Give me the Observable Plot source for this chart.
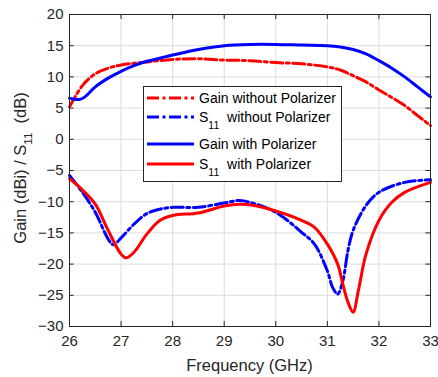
<!DOCTYPE html>
<html>
<head>
<meta charset="utf-8">
<script src="https://cdn.jsdelivr.net/npm/d3@7"></script>
<script src="https://cdn.jsdelivr.net/npm/@observablehq/plot@0.6"></script>
<style>
  html, body { margin: 0; padding: 0; background: #fff; }
  #chart { width: 438px; height: 377px; }
</style>
</head>
<body>
<div id="chart"></div>
<script>
// ---- data ----
const xTicks = [26, 27, 28, 29, 30, 31, 32, 33];
const yTicks = [-30, -25, -20, -15, -10, -5, 0, 5, 10, 15, 20];

const gainWithoutFreq = [26, 26.25, 26.5, 26.75, 27, 27.5, 28, 28.5, 29, 29.5, 30, 30.5, 31, 31.25, 31.5, 31.75, 32, 32.25, 32.5, 32.75, 33];
const gainWithoutVal  = [5.2, 8.6, 10.5, 11.4, 11.9, 12.4, 12.8, 12.9, 12.7, 12.6, 12.3, 12.1, 11.6, 11.1, 10.2, 9.2, 7.9, 6.7, 5.4, 3.8, 2.2];

const s11WithoutFreq = [26, 26.25, 26.5, 26.75, 26.85, 27, 27.25, 27.5, 27.75, 28, 28.5, 29, 29.3, 29.5, 30, 30.5, 30.75, 31, 31.1, 31.2, 31.3, 31.4, 31.5, 31.75, 32, 32.5, 33];
const s11WithoutVal  = [-5.8, -8.5, -11.7, -16.0, -16.9, -15.8, -13.6, -11.9, -11.2, -10.9, -10.9, -10.2, -9.8, -10.1, -11.7, -14.9, -16.8, -21.1, -23.7, -24.8, -22.7, -17.8, -14.6, -10.6, -8.5, -6.9, -6.5];

const gainWithFreq = [26, 26.1, 26.2, 26.3, 26.5, 26.75, 27, 27.25, 27.5, 27.75, 28, 28.5, 29, 29.5, 30, 30.5, 31, 31.25, 31.5, 31.75, 32, 32.25, 32.5, 32.75, 33];
const gainWithVal  = [6.6, 6.4, 6.4, 6.8, 8.4, 9.8, 10.9, 11.8, 12.5, 13.0, 13.5, 14.4, 15.0, 15.2, 15.2, 15.1, 15.0, 14.8, 14.4, 13.7, 12.6, 11.4, 10.0, 8.4, 6.8];

const s11WithFreq = [26, 26.25, 26.5, 26.75, 27, 27.1, 27.25, 27.5, 27.75, 28, 28.5, 29, 29.3, 29.5, 30, 30.5, 30.75, 31, 31.2, 31.3, 31.4, 31.5, 31.6, 31.75, 32, 32.25, 32.5, 33];
const s11WithVal  = [-6.3, -8.1, -10.4, -14.6, -18.4, -19.0, -18.1, -15.2, -13.0, -12.2, -11.8, -10.7, -10.4, -10.5, -11.5, -13.0, -14.1, -16.8, -20.0, -23.2, -26.1, -27.7, -24.3, -18.4, -13.0, -10.1, -8.5, -6.9];

const seriesNames = ["Gain without Polarizer", "S11 without Polarizer", "Gain with Polarizer", "S11 with Polarizer"];

// ---- styles ----
const RED = "#ff0000", BLUE = "#0000ff", INK = "#262626";
const DASHDOT = "12,3.5,3,3.5";
const LW = 3;
const series = [
  {name: seriesNames[0], f: gainWithoutFreq, v: gainWithoutVal, color: RED, dash: DASHDOT},
  {name: seriesNames[1], f: s11WithoutFreq, v: s11WithoutVal, color: BLUE, dash: DASHDOT},
  {name: seriesNames[2], f: gainWithFreq, v: gainWithVal, color: BLUE, dash: null},
  {name: seriesNames[3], f: s11WithFreq, v: s11WithVal, color: RED, dash: null}
];
const toRows = s => s.f.map((f, i) => ({f, v: s.v[i]}));

const marks = [
  Plot.gridX(xTicks, {stroke: "#dcdcdc", strokeOpacity: 1}),
  Plot.gridY(yTicks, {stroke: "#dcdcdc", strokeOpacity: 1}),
  // inward tick marks (MATLAB style), on all four sides
  Plot.ruleX(xTicks, {y1: -30, y2: -29.2, stroke: INK}),
  Plot.ruleX(xTicks, {y1: 20, y2: 19.2, stroke: INK}),
  Plot.ruleY(yTicks, {x1: 26, x2: 26.09, stroke: INK}),
  Plot.ruleY(yTicks, {x1: 33, x2: 32.91, stroke: INK}),
  Plot.axisX(xTicks, {tickSize: 0, tickPadding: 9, label: null, fill: INK, fontSize: 15}),
  Plot.axisY(yTicks, {tickSize: 0, tickPadding: 6, label: null, fill: INK, fontSize: 15}),
];
for (const s of series) {
  marks.push(Plot.line(toRows(s), {
    x: "f", y: "v", stroke: s.color, strokeWidth: LW,
    strokeDasharray: s.dash || undefined, curve: "catmull-rom"
  }));
}
marks.push(Plot.frame({stroke: INK, strokeWidth: 1}));

const chart = Plot.plot({
  width: 438,
  height: 377,
  marginLeft: 69,
  marginRight: 8,
  marginTop: 14,
  marginBottom: 51,
  x: {domain: [26, 33]},
  y: {domain: [-30, 20]},
  style: {fontFamily: "'Liberation Sans', Arial, sans-serif", fontSize: "15px", color: INK, background: "#fff"},
  marks
});
document.getElementById("chart").appendChild(chart);

// ---- axis labels with subscripts ----
const svg = d3.select(chart);
const font = "'Liberation Sans', Arial, sans-serif";

svg.append("text")
  .attr("x", 249.5).attr("y", 371)
  .attr("text-anchor", "middle")
  .attr("font-family", font).attr("font-size", 16.5).attr("fill", INK)
  .text("Frequency (GHz)");

const yl = svg.append("text")
  .attr("transform", "translate(26,168) rotate(-90)")
  .attr("text-anchor", "middle")
  .attr("font-family", font).attr("font-size", 16.5).attr("fill", INK);
yl.append("tspan").text("Gain (dBi) / S");
yl.append("tspan").attr("font-size", 11.5).attr("dy", 6).text("11");
yl.append("tspan").attr("dy", -6).text("\u00a0 (dB)");

// ---- legend ----
const lg = svg.append("g").attr("text-anchor", "start");
lg.append("rect")
  .attr("x", 143.5).attr("y", 86.5).attr("width", 198).attr("height", 95)
  .attr("fill", "#fff").attr("stroke", INK).attr("stroke-width", 1);
const rowY = [98, 117, 144, 164];
series.forEach((s, i) => {
  const y = rowY[i];
  lg.append("line")
    .attr("x1", 147).attr("x2", 194).attr("y1", y).attr("y2", y)
    .attr("stroke", s.color).attr("stroke-width", LW)
    .attr("stroke-dasharray", s.dash || null);
  const t = lg.append("text")
    .attr("x", 199).attr("y", y + 5)
    .attr("text-anchor", "start")
    .attr("font-family", font).attr("font-size", 14).attr("fill", "#000");
  if (s.name.startsWith("S11")) {
    t.append("tspan").text("S");
    t.append("tspan").attr("font-size", 10.5).attr("dy", 7).text("11");
    t.append("tspan").attr("dy", -7).text("\u00a0 " + s.name.slice(4));
  } else {
    t.text(s.name);
  }
});
</script>
</body>
</html>
